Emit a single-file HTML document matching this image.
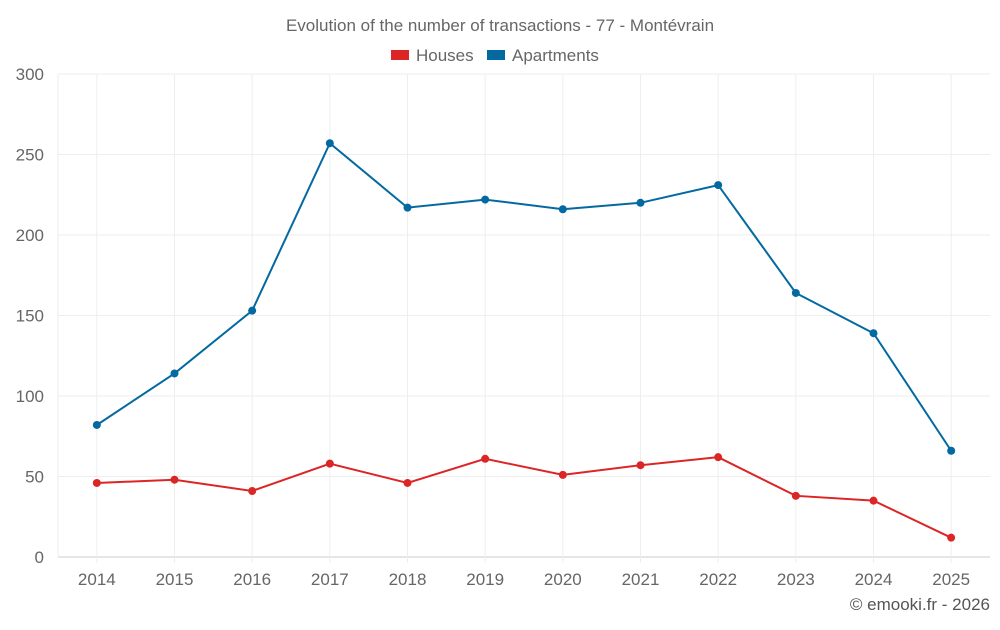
<!DOCTYPE html>
<html><head><meta charset="utf-8"><style>
body{margin:0;background:#fff;font-family:"Liberation Sans",sans-serif}
svg text{font-family:"Liberation Sans",sans-serif}
</style></head><body>
<svg id="c" width="1000" height="625" xmlns="http://www.w3.org/2000/svg">
<text x="500" y="31" text-anchor="middle" font-size="17" fill="#666">Evolution of the number of transactions - 77 - Montévrain</text>
<g><rect x="391" y="50" width="18" height="10" fill="#dc2626"/><text x="416" y="61" font-size="17" fill="#666">Houses</text></g>
<g><rect x="487" y="50" width="18" height="10" fill="#0369a1"/><text x="512" y="61" font-size="17" fill="#666">Apartments</text></g>
<text x="990" y="610" text-anchor="end" font-size="17" fill="#555">© emooki.fr - 2026</text>
<g id="grid"></g><g id="axes"></g><g id="series"></g>
</svg>
<script>
const years=['2014','2015','2016','2017','2018','2019','2020','2021','2022','2023','2024','2025'];
const houses=[46,48,41,58,46,61,51,57,62,38,35,12];
const apartments=[82,114,153,257,217,222,216,220,231,164,139,66];
const yTicks=[0,50,100,150,200,250,300];
const NS='http://www.w3.org/2000/svg';
const L=58,R=990,T=74,B=557;
const step=(R-L)/years.length;
const x=i=>L+step*(i+0.5);
const y=v=>B-(v/300)*(B-T);
function mk(t,a,p){const e=document.createElementNS(NS,t);for(const k in a)e.setAttribute(k,a[k]);p.appendChild(e);return e;}
const g=document.getElementById('grid'),ax=document.getElementById('axes'),s=document.getElementById('series');
yTicks.forEach(v=>{
 const l=mk('line',{x1:L,x2:R,y1:y(v),y2:y(v),stroke:v===0?'#ccc':'#eee'},g);
 
 
 const t=mk('text',{x:44,y:y(v)+6,'text-anchor':'end','font-size':17,fill:'#666'},ax);t.textContent=v;
 
 
});
mk('line',{x1:L,x2:L,y1:T,y2:B,stroke:'#eee'},g);
years.forEach((yr,i)=>{
 const l=mk('line',{x1:x(i),x2:x(i),y1:T,y2:B+6,stroke:'#eee'},g);
 
 
 const t=mk('text',{x:x(i),y:585,'text-anchor':'middle','font-size':17,fill:'#666'},ax);t.textContent=yr;
 
 
});
function series(d,c,n){
 const p=mk('polyline',{points:d.map((v,i)=>x(i)+','+y(v)).join(' '),fill:'none',stroke:c,'stroke-width':2},s);
 
 
 d.forEach((v,i)=>{const e=mk('circle',{cx:x(i),cy:y(v),r:4,fill:c},s);
 
 });
}
series(houses,'#dc2626','houses');
series(apartments,'#0369a1','apartments');
</script>
</body></html>
